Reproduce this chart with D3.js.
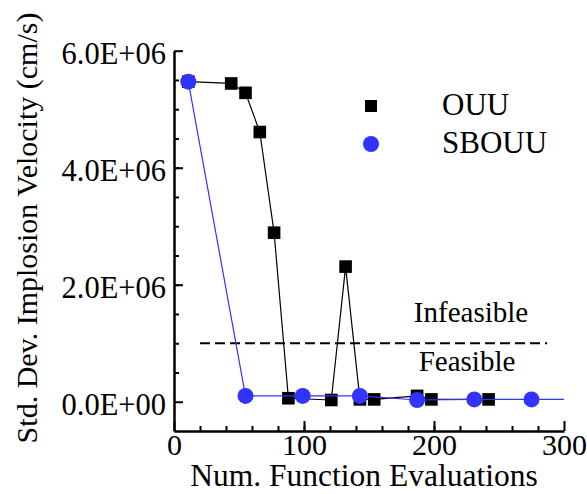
<!DOCTYPE html>
<meta charset="utf-8">
<body style="margin:0;background:#fff">
<script src="https://cdn.jsdelivr.net/npm/d3@7"></script>
<script>

// data
var ouuX = [11, 44, 55, 66, 77, 88, 121, 132, 143, 154, 187, 198, 242];
var ouuY = [5.47e6, 5.44e6, 5.28e6, 4.61e6, 2.89e6, 0.06e6, 0.03e6, 2.31e6, 0.04e6, 0.04e6, 0.10e6, 0.04e6, 0.04e6];
var sbouuX = [11, 55, 99, 143, 187, 231, 275];
var sbouuY = [5.47e6, 0.10e6, 0.10e6, 0.10e6, 0.03e6, 0.04e6, 0.04e6];
var sbouuTail = [300, 0.04e6];          // blue line runs on to the axis end
var limitY = 1e6, limitX = [20, 287];   // feasibility threshold
var xTicks = [0, 100, 200, 300];
var yTicks = [0, 2e6, 4e6, 6e6];
var seriesNames = ["OUU", "SBOUU"];

var blue = "#3333ff";
var serif = "Liberation Serif";
var width = 587, height = 494;

var x = d3.scaleLinear().domain([0, 300]).range([174, 564]);
var y = d3.scaleLinear().domain([-0.5e6, 6e6]).range([431, 50.7]);

var svg = d3.select("body").append("svg")
    .attr("width", width)
    .attr("height", height)
    .attr("font-family", serif);

// 6.0E+06 style labels
function sci(d) {
  if (d === 0) return "0.0E+00";
  var p = d3.format(".1e")(d).split("e");
  var e = +p[1];
  return p[0] + "E" + (e < 0 ? "-" : "+") + d3.format("02d")(Math.abs(e));
}

// minor ticks first
svg.append("g")
    .attr("transform", "translate(" + x(0) + ",0)")
    .call(d3.axisLeft(y).tickValues(d3.range(0.5e6, 6e6, 0.5e6)).tickSize(-5).tickFormat(""))
    .call(function(g) { g.select(".domain").remove(); });
svg.append("g")
    .attr("transform", "translate(0," + y(-0.5e6) + ")")
    .call(d3.axisBottom(x).tickValues(d3.range(20, 300, 20)).tickSize(-5).tickFormat(""))
    .call(function(g) { g.select(".domain").remove(); });

var yAxis = svg.append("g")
    .attr("transform", "translate(" + x(0) + ",0)")
    .call(d3.axisLeft(y).tickValues(yTicks).tickSize(-9).tickSizeOuter(0).tickPadding(8).tickFormat(sci));
yAxis.attr("font-size", 30.5);
yAxis.selectAll("text").attr("dy", "0.43em");

var xAxis = svg.append("g")
    .attr("transform", "translate(0," + y(-0.5e6) + ")")
    .call(d3.axisBottom(x).tickValues(xTicks).tickSize(-10).tickSizeOuter(0).tickFormat(d3.format("d")));
xAxis.attr("font-size", 30);
xAxis.selectAll("text").attr("y", 24).attr("dy", 0);

svg.selectAll("g").attr("font-family", serif);
svg.selectAll("text").attr("fill", "#000");
svg.selectAll(".tick line").attr("stroke", "#000").attr("stroke-width", 2);
svg.selectAll(".domain").attr("stroke", "#000").attr("stroke-width", 2.5);

// axis titles
svg.append("text")
    .attr("x", 364).attr("y", 486)
    .attr("text-anchor", "middle")
    .attr("font-size", 31.5)
    .text("Num. Function Evaluations");
svg.append("text")
    .attr("transform", "translate(37,228) rotate(-90)")
    .attr("text-anchor", "middle")
    .attr("font-size", 30)
    .text("Std. Dev. Implosion Velocity (cm/s)");

// threshold
svg.append("line")
    .attr("x1", x(limitX[0])).attr("x2", x(limitX[1]))
    .attr("y1", y(limitY)).attr("y2", y(limitY))
    .attr("stroke", "#000").attr("stroke-width", 2)
    .attr("stroke-dasharray", "10,5");
svg.append("text")
    .attr("x", 471).attr("y", 322)
    .attr("text-anchor", "middle").attr("font-size", 29)
    .text("Infeasible");
svg.append("text")
    .attr("x", 467).attr("y", 371)
    .attr("text-anchor", "middle").attr("font-size", 29)
    .text("Feasible");

// OUU series
var ouu = ouuX.map(function(d, i) { return [d, ouuY[i]]; });
var line = d3.line().x(function(d) { return x(d[0]); }).y(function(d) { return y(d[1]); });
svg.append("path")
    .datum(ouu)
    .attr("d", line)
    .attr("fill", "none").attr("stroke", "#000").attr("stroke-width", 1.2);
svg.selectAll(".sq")
    .data(ouu)
    .enter().append("rect")
    .attr("class", "sq")
    .attr("x", function(d) { return x(d[0]) - 6.3; })
    .attr("y", function(d) { return y(d[1]) - 6.3; })
    .attr("width", 12.6).attr("height", 12.6)
    .attr("fill", "#000");

// SBOUU series
var sbouu = sbouuX.map(function(d, i) { return [d, sbouuY[i]]; });
svg.append("path")
    .datum(sbouu.concat([sbouuTail]))
    .attr("d", line)
    .attr("fill", "none").attr("stroke", blue).attr("stroke-width", 1.2);
svg.selectAll(".dot")
    .data(sbouu)
    .enter().append("circle")
    .attr("class", "dot")
    .attr("cx", function(d) { return x(d[0]); })
    .attr("cy", function(d) { return y(d[1]); })
    .attr("r", 8)
    .attr("fill", blue);

// legend
var legend = svg.selectAll(".legend")
    .data(seriesNames)
    .enter().append("g")
    .attr("class", "legend")
    .attr("transform", function(d, i) { return "translate(371," + (106 + i * 38) + ")"; });
legend.each(function(d, i) {
  var g = d3.select(this);
  if (i === 0) {
    g.append("rect").attr("x", -6).attr("y", -6).attr("width", 12).attr("height", 12).attr("fill", "#000");
  } else {
    g.append("circle").attr("r", 8).attr("fill", blue);
  }
  g.append("text").attr("x", 71).attr("y", 9)
      .attr("font-size", 31).text(d);
});

</script>
</body>
